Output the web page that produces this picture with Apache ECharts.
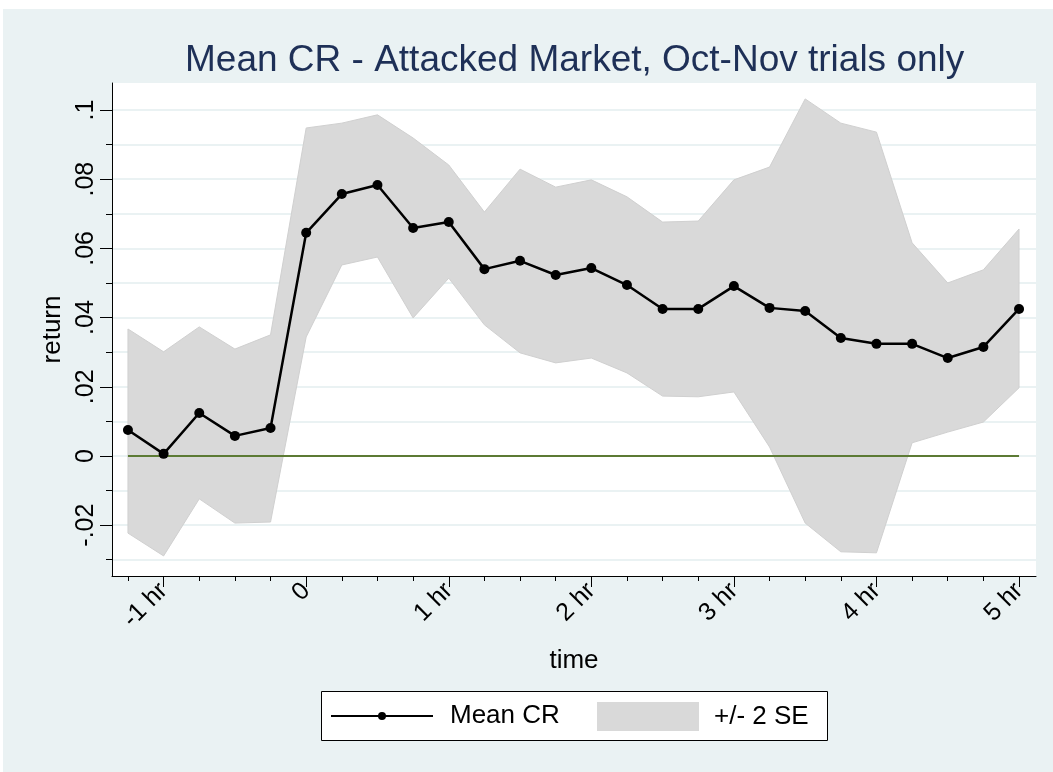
<!DOCTYPE html>
<html>
<head>
<meta charset="utf-8">
<title>Mean CR</title>
<script src="https://cdn.jsdelivr.net/npm/echarts@6/dist/echarts.min.js"></script>
<style>
html,body{margin:0;padding:0;background:#fff;}
#main{position:absolute;left:0;top:0;width:1053px;height:772px;box-sizing:border-box;
	background:#eaf2f3;border-top:9px solid #fff;border-left:3px solid #fff;}
</style>
</head>
<body>
<div id="main"></div>
<script>
// time in hours, 15 min steps
var times = [-1.25,-1,-0.75,-0.5,-0.25,0,0.25,0.5,0.75,1,1.25,1.5,1.75,2,2.25,2.5,2.75,3,3.25,3.5,3.75,4,4.25,4.5,4.75,5];
var meanCR = [0.0075,0.0006,0.0124,0.0058,0.0081,0.0645,0.0757,0.0783,0.0659,0.0676,0.0540,0.0564,0.0523,0.0543,0.0494,0.0425,0.0425,0.0491,0.0428,0.0419,0.0341,0.0324,0.0324,0.0283,0.0315,0.0425];
var upperSE = [0.0367,0.0301,0.0373,0.0309,0.0350,0.0948,0.0962,0.0986,0.0919,0.0841,0.0705,0.0829,0.0777,0.0798,0.0749,0.0676,0.0679,0.0798,0.0835,0.1032,0.0962,0.0936,0.0616,0.0500,0.0538,0.0656];
var lowerSE = [-0.0223,-0.0289,-0.0124,-0.0194,-0.0191,0.0344,0.0552,0.0575,0.0399,0.0514,0.0379,0.0298,0.0269,0.0283,0.0240,0.0173,0.0171,0.0185,0.0026,-0.0194,-0.0277,-0.0280,0.0038,0.0069,0.0098,0.0197];

var yMajor = [-0.02,0,0.02,0.04,0.06,0.08,0.1];
var yLabels = ["-.02","0",".02",".04",".06",".08",".1"];
var yMinor = [-0.03,-0.02,-0.01,0,0.01,0.02,0.03,0.04,0.05,0.06,0.07,0.08,0.09,0.1];
var xMajor = [-1,0,1,2,3,4,5];
var xLabels = ["-1 hr","0","1 hr","2 hr","3 hr","4 hr","5 hr"];

var xMin = -1.362, xMax = 5.119;
var yMin = -0.0347, yMax = 0.1078;

function pickLabel(values,labels,v){
	for(var i=0;i<values.length;i++){
		if(Math.abs(values[i]-v) < 1e-6) return labels[i];
	}
	return "";
}

function pairs(xs,ys){
	var arr = [];
	for(var i=0;i<xs.length;i++){
		arr.push([xs[i],ys[i]]);
	}
	return arr;
}

var zeroLine = [];
for(var i=0;i<times.length;i++){
	zeroLine.push(0);
}

//+/- 2 SE 区域: upper left->right, then lower right->left
function renderBand(params,api){
	var pts = [];
	for(var i=0;i<times.length;i++){
		pts.push(api.coord([times[i],upperSE[i]]));
	}
	for(var j=times.length-1;j>=0;j--){
		pts.push(api.coord([times[j],lowerSE[j]]));
	}
	return {
		type:"polygon",
		shape:{points:pts},
		style:{fill:"#d9d9d9", stroke:"#d0d0d0", lineWidth:1}
	};
}

var font = "Liberation Sans, Arial, sans-serif";
var myChart = echarts.init(document.getElementById("main"));
myChart.setOption({
	animation:false,
	textStyle:{fontFamily:font},
	title:{
		text:"Mean CR - Attacked Market, Oct-Nov trials only",
		left:182, top:33, padding:0,
		textStyle:{fontSize:37, fontWeight:"normal", color:"#1e3057", fontFamily:font}
	},
	grid:{left:109, right:17, top:74, bottom:196, show:true, backgroundColor:"#fff", borderWidth:0},
	xAxis:[{
		type:"value", min:xMin, max:xMax, position:"bottom",
		axisLine:{show:true, onZero:false, lineStyle:{color:"#000", width:1}},
		axisTick:{show:true, length:11, customValues:xMajor, lineStyle:{color:"#000", width:1}},
		axisLabel:{customValues:xMajor, rotate:45, margin:11, fontSize:25, color:"#000",
			formatter:function(v){return pickLabel(xMajor,xLabels,v);}},
		splitLine:{show:false},
		name:"time", nameLocation:"middle", nameGap:72,
		nameTextStyle:{fontSize:26, color:"#000"}
	},{
		type:"value", min:xMin, max:xMax, position:"bottom",
		axisLine:{show:false, onZero:false},
		axisTick:{show:true, length:5, customValues:times, lineStyle:{color:"#000", width:1}},
		axisLabel:{show:false},
		splitLine:{show:false}
	}],
	yAxis:[{
		type:"value", min:yMin, max:yMax, position:"left",
		axisLine:{show:true, onZero:false, lineStyle:{color:"#000", width:1}},
		axisTick:{show:true, length:12, customValues:yMajor, lineStyle:{color:"#000", width:1}},
		axisLabel:{customValues:yMajor, rotate:90, margin:13, fontSize:25, color:"#000",
			formatter:function(v){return pickLabel(yMajor,yLabels,v);}},
		splitLine:{show:false},
		name:"return", nameLocation:"middle", nameGap:39,
		nameTextStyle:{fontSize:26, color:"#000"}
	},{
		type:"value", min:yMin, max:yMax, position:"left",
		axisLine:{show:false, onZero:false},
		axisTick:{show:true, length:6, customValues:yMinor, lineStyle:{color:"#000", width:1}},
		axisLabel:{show:false},
		splitLine:{show:true, lineStyle:{color:"#eaf2f3", width:2}}
	}],
	legend:[{
		data:["Mean CR"],
		left:327, top:694, padding:0, selectedMode:false,
		itemWidth:102, itemHeight:10,
		textStyle:{fontSize:26, color:"#000", padding:[0,0,0,12]}
	},{
		data:[{name:"+/- 2 SE", icon:"rect", itemStyle:{color:"#d9d9d9", borderWidth:0}}],
		left:594, top:693, padding:0, selectedMode:false,
		itemWidth:102, itemHeight:29,
		textStyle:{fontSize:26, color:"#000", padding:[0,0,0,10]}
	}],
	graphic:[{
		type:"rect", left:318, top:682, z:1,
		shape:{width:506, height:49},
		style:{fill:"#fff", stroke:"#000", lineWidth:1}
	}],
	series:[{
		name:"+/- 2 SE", type:"custom", silent:true,
		renderItem:renderBand,
		itemStyle:{color:"#d9d9d9"},
		data:[[times[0],upperSE[0]]],
		encode:{x:0, y:1}
	},{
		name:"zero", type:"line", symbol:"none", silent:true,
		data:pairs(times,zeroLine),
		lineStyle:{color:"#5c7a34", width:2}
	},{
		name:"Mean CR", type:"line", symbol:"circle", symbolSize:10,
		data:pairs(times,meanCR),
		itemStyle:{color:"#000"},
		lineStyle:{color:"#000", width:2.5}
	}]
});
</script>
</body>
</html>
